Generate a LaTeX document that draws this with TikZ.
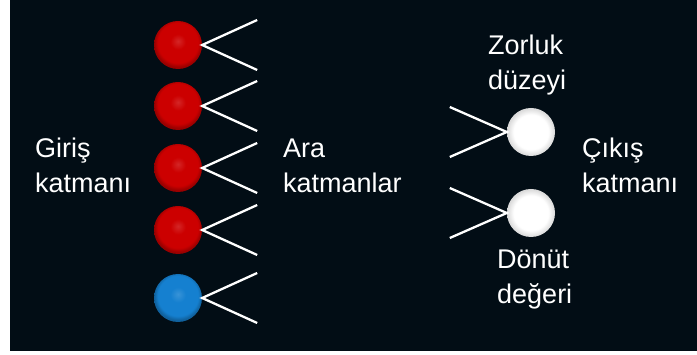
\documentclass[tikz,border=0pt]{standalone}
\usepackage{fontspec}
\setmainfont{Liberation Sans}
\definecolor{arkaplan}{HTML}{020D15}
\definecolor{kirmizi}{HTML}{CC0000}
\definecolor{mavi}{HTML}{1580D0}
\pgfdeclareradialshading{kirmizitop}{\pgfpoint{0bp}{4bp}}{color(0bp)=(kirmizi!85!white); color(8bp)=(kirmizi); color(21bp)=(kirmizi); color(25bp)=(kirmizi!75!black); color(50bp)=(kirmizi!75!black)}
\pgfdeclareradialshading{mavitop}{\pgfpoint{0bp}{4bp}}{color(0bp)=(mavi!85!white); color(8bp)=(mavi); color(21bp)=(mavi); color(25bp)=(mavi!75!black); color(50bp)=(mavi!75!black)}
\pgfdeclareradialshading{beyaztop}{\pgfpoint{0bp}{0bp}}{color(0bp)=(white); color(18bp)=(white); color(25bp)=(white!70!gray); color(50bp)=(white!70!gray)}
\tikzset{
  noron/.style={circle, minimum size=48pt, inner sep=0pt},
  kol/.style={draw=white, line width=2.3pt},
  etiket/.style={text=white, font=\fontsize{27}{35}\selectfont, align=left, inner sep=0pt, anchor=base west}
}
\begin{document}
\begin{tikzpicture}[x=1pt,y=-1pt]
  \useasboundingbox (0,0) rectangle (697,355);
  \fill[arkaplan] (10,0) rectangle (697,351);
  % giris katmani
  \foreach \i/\y in {1/45,2/106,3/168,4/230}{
    \node[noron, shading=kirmizitop] (g\i) at (178,\y) {};
  }
  \node[noron, shading=mavitop] (g5) at (178,298) {};
  \foreach \i in {1,...,5}{
    \coordinate (u\i) at ([shift={(55,-25)}]g\i.east);
    \coordinate (a\i) at ([shift={(55,25)}]g\i.east);
    \draw[kol] (u\i) -- (g\i.east) -- (a\i);
  }
  % cikis katmani
  \node[noron, shading=beyaztop] (c1) at (531,132) {};
  \node[noron, shading=beyaztop] (c2) at (531,213) {};
  \foreach \i in {1,2}{
    \coordinate (cu\i) at ([shift={(-57,-25)}]c\i.west);
    \coordinate (ca\i) at ([shift={(-57,25)}]c\i.west);
    \draw[kol] (cu\i) -- (c\i.west) -- (ca\i);
  }
  % etiketler
  \node[etiket] (giris) at (35,193) {Giriş\\katmanı};
  \node[etiket] (ara) at (283,193) {Ara\\katmanlar};
  \node[etiket] (zorluk) at (488,90) {Zorluk\\düzeyi};
  \node[etiket] (cikis) at (582,193) {Çıkış\\katmanı};
  \node[etiket] (donut) at (497,304) {Dönüt\\değeri};
\end{tikzpicture}
\end{document}
